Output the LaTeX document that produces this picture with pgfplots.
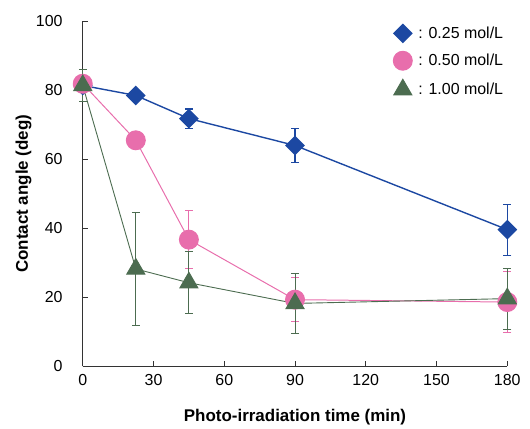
\documentclass[border=0pt]{standalone}
\usepackage{fontspec}
\setmainfont{Liberation Sans}
\usepackage{pgfplots}
\pgfplotsset{compat=1.18}

\definecolor{cBlue}{RGB}{28,72,162}
\definecolor{cPink}{RGB}{232,110,172}
\definecolor{cGreen}{RGB}{76,108,80}

\begin{document}
\begin{tikzpicture}
\useasboundingbox (-82.7bp,-62.3bp) rectangle (447bp,366bp);
\begin{axis}[
    at={(0,0)}, anchor=south west,
    scale only axis,
    width=424.3bp, height=344.7bp,
    xmin=0, xmax=180, ymin=0, ymax=100,
    xtick={0,30,...,180}, ytick={0,20,...,100},
    axis lines*=left,
    axis line style={line width=1pt, black!80},
    tick style={line width=0.8pt, black!80},
    tick align=inside,
    major tick length=5bp,
    clip=false,
    /pgf/number format/assume math mode=true,
    tick label style={font=\fontsize{16}{18}\selectfont},
    yticklabel style={inner sep=0pt, xshift=-20bp},
    xticklabel style={inner sep=0pt, yshift=-8bp},
    xlabel={\textbf{Photo-irradiation time (min)}},
    ylabel={\textbf{Contact angle (deg)}},
    label style={font=\fontsize{17}{20}\selectfont},
    xlabel style={yshift=-20bp},
    ylabel style={yshift=1bp},
    legend style={draw=none, fill=none, at={(1,1)}, anchor=north east,
        font=\fontsize{16}{18}\selectfont, row sep=9bp, inner sep=0pt,
        xshift=-2bp, yshift=-3bp},
    legend cell align=left,
    legend image post style={only marks},
    error bars/y dir=both,
    error bars/y explicit,
]
\addplot[color=cBlue, line width=1.4pt, mark=square*,
    mark size=6.3pt, mark options={rotate=45, solid},
    error bars/error bar style={line width=1.2pt, cBlue},
    error bars/error mark options={rotate=90, mark size=4pt, line width=1.2pt, cBlue}]
    coordinates {
    (0,81.4) +- (0,1.5)
    (22.5,78.5) +- (0,1.5)
    (45,71.8) +- (0,2.8)
    (90,64.0) +- (0,5.0)
    (180,39.6) +- (0,7.4)
    };
\addlegendentry{\hspace{4bp}: 0.25 mol/L}
\addplot[color=cPink, line width=1pt, mark=*,
    mark size=9.5pt, mark options={solid},
    error bars/error bar style={line width=0.9pt, cPink},
    error bars/error mark options={rotate=90, mark size=4pt, line width=1pt, cPink}]
    coordinates {
    (0,81.9) +- (0,2.0)
    (22.5,65.5) +- (0,1.5)
    (45,36.7) +- (0,8.5)
    (90,19.3) +- (0,6.4)
    (180,18.6) +- (0,8.8)
    };
\addlegendentry{\hspace{4bp}: 0.50 mol/L}
\addplot[color=cGreen, line width=0.9pt, mark=triangle*,
    mark size=10.5pt, mark options={solid},
    error bars/error bar style={line width=0.9pt, cGreen},
    error bars/error mark options={rotate=90, mark size=4pt, line width=0.9pt, cGreen}]
    coordinates {
    (0,81.4) +- (0,4.6)
    (22.5,28.2) +- (0,16.3)
    (45,24.2) +- (0,9.0)
    (90,18.2) +- (0,8.6)
    (180,19.6) +- (0,8.8)
    };
\addlegendentry{\hspace{4bp}: 1.00 mol/L}
\end{axis}
\end{tikzpicture}
\end{document}
